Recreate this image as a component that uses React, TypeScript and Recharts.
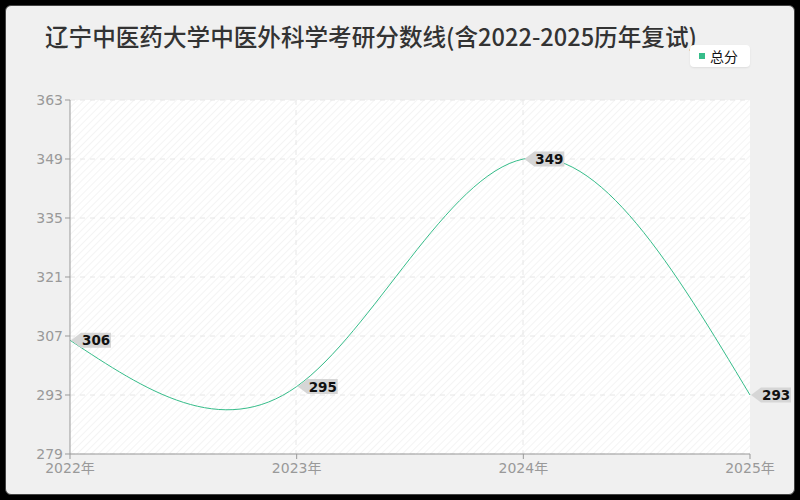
import { LineChart, Line, XAxis, YAxis, CartesianGrid } from 'recharts'

// 数据
const years = ['2022年', '2023年', '2024年', '2025年']
const totalScores = [306, 295, 349, 293]
const yTicks = [279, 293, 307, 321, 335, 349, 363]

const data = years.map((year, i) => ({ year, total: totalScores[i] }))

const TITLE = '辽宁中医药大学中医外科学考研分数线(含2022-2025历年复试)'
const LINE_COLOR = '#36bd8a'

// 数值标签：左侧带箭头的灰色小牌
const TagLabel = (props: any) => {
  const { x, y, value } = props
  if (x == null || y == null) return null
  const w = 30
  const h = 15
  const a = 10
  const x0 = x + 1
  const pts = [
    [x0, y],
    [x0 + a, y - h / 2],
    [x0 + a + w, y - h / 2],
    [x0 + a + w, y + h / 2],
    [x0 + a, y + h / 2]
  ]
    .map((p) => p.join(','))
    .join(' ')
  return (
    <g>
      <polygon points={pts} fill="#d6d6d6" />
      <text
        x={x0 + a + 1}
        y={y + 5}
        fontSize={13.5}
        fontWeight={600}
        fill="#111"
        fontFamily="DejaVu Sans, sans-serif"
      >
        {value}
      </text>
    </g>
  )
}

export default function App() {
  return (
    <div style={{ position: 'fixed', left: 0, top: 0, width: 800, height: 500, background: '#000' }}>
      <div
        style={{
          position: 'absolute',
          left: 5,
          top: 5,
          width: 788,
          height: 488,
          background: '#f0f0f0',
          borderRadius: 6,
          border: '1px solid #444'
        }}
      />
      <div
        style={{
          position: 'absolute',
          left: 45,
          top: 19,
          fontFamily: '"Noto Sans CJK SC", sans-serif',
          fontSize: 23.6,
          fontWeight: 500,
          color: '#333',
          whiteSpace: 'nowrap'
        }}
      >
        {TITLE}
      </div>
      <div
        style={{
          position: 'absolute',
          left: 690,
          top: 45,
          width: 60,
          height: 22,
          background: '#fff',
          borderRadius: 4,
          boxShadow: '0 1px 2px rgba(0,0,0,0.08)',
          display: 'flex',
          alignItems: 'center',
          fontFamily: '"Noto Sans CJK SC", sans-serif',
          fontSize: 14,
          color: '#111'
        }}
      >
        <span style={{ display: 'inline-block', width: 6, height: 6, background: LINE_COLOR, marginLeft: 9, marginRight: 5 }} />
        总分
      </div>
      <div style={{ position: 'absolute', left: 0, top: 0 }}>
        <LineChart width={800} height={500} data={data} margin={{ top: 100, right: 50, left: 10, bottom: 16 }}>
          <defs>
            <pattern id="hatch" width="5" height="5" patternUnits="userSpaceOnUse" patternTransform="rotate(45)">
              <rect width="5" height="5" fill="#ffffff" />
              <line x1="0" y1="0" x2="0" y2="5" stroke="#f4f4f4" strokeWidth="2" />
            </pattern>
          </defs>
          <CartesianGrid
            stroke="#e6e6e6"
            strokeDasharray="5 5"
            fill="url(#hatch)"
            fillOpacity={1}
            verticalPoints={[296, 523]}
          />
          <XAxis
            dataKey="year"
            stroke="#999"
            tickLine={{ stroke: '#999' }}
            tickSize={5}
            tick={{ fill: '#999', fontSize: 14, fontFamily: 'DejaVu Sans, "Noto Sans CJK SC", sans-serif', dy: 2 }}
            height={30}
            interval={0}
          />
          <YAxis
            domain={[279, 363]}
            ticks={yTicks}
            width={60}
            stroke="#999"
            tickSize={5}
            tick={{ fill: '#999', fontSize: 14, fontFamily: 'DejaVu Sans, sans-serif' }}
            interval={0}
          />
          <Line
            type="natural"
            dataKey="total"
            stroke={LINE_COLOR}
            strokeWidth={1}
            dot={false}
            isAnimationActive={false}
            label={<TagLabel />}
          />
        </LineChart>
      </div>
    </div>
  )
}
